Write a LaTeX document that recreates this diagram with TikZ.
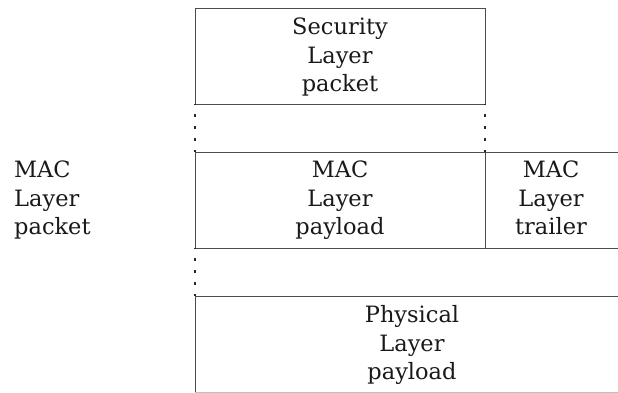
\documentclass[tikz,border=0pt]{standalone}
\usepackage{fontspec}
\setmainfont{DejaVu Serif}
\begin{document}
\begin{tikzpicture}[x=1pt,y=1pt,
  every node/.style={font=\fontsize{22.5}{28.5}\selectfont, text=black!90},
  field/.style={align=center, inner sep=0pt, anchor=base},
  rule/.style={draw=black!70, line width=0.9pt},
  gap/.style={draw=black!85, line width=1.1pt, dash pattern=on 3pt off 9pt, dash phase=1.5pt}]
  \useasboundingbox (0,0) rectangle (618,393);

  % outline corners
  \coordinate (sTL) at (195,385);
  \coordinate (sTR) at (485,385);
  \coordinate (sBL) at (195,289);
  \coordinate (sBR) at (485,289);
  \coordinate (mTL) at (195,241);
  \coordinate (mTM) at (485,241);
  \coordinate (mTR) at (618,241);
  \coordinate (mBL) at (195,145);
  \coordinate (mBM) at (485,145);
  \coordinate (mBR) at (618,145);
  \coordinate (pTL) at (195,97);
  \coordinate (pTR) at (618,97);
  \coordinate (pBL) at (195,1);
  \coordinate (pBR) at (618,1);

  % security layer packet (anchor is the baseline of the last line)
  \draw[rule] (sBL) -- (sTL) -- (sTR) -- (sBR) -- cycle;
  \node[field] (sec) at (340,301) {Security\\Layer\\packet};
  \draw[gap] (sBL) -- (mTL);
  \draw[gap] (sBR) -- (mTM);

  % MAC layer packet
  \draw[rule] (mTR) -- (mTL) -- (mBL) -- (mBR);
  \draw[rule] (mTM) -- (mBM);
  \node[field] (pay) at (340,158) {MAC\\Layer\\payload};
  \node[field] (trl) at (551,158) {MAC\\Layer\\trailer};
  \node[align=left, inner sep=0pt, anchor=base west] (mac) at (14,158) {MAC\\Layer\\packet};
  \draw[gap] (mBL) -- (pTL);

  % physical layer payload
  \draw[rule] (pTR) -- (pTL) -- (pBL);
  \draw[draw=black!25, line width=0.9pt] (pBL) -- (pBR);
  \node[field] (phy) at (412,13) {Physical\\Layer\\payload};
\end{tikzpicture}
\end{document}
